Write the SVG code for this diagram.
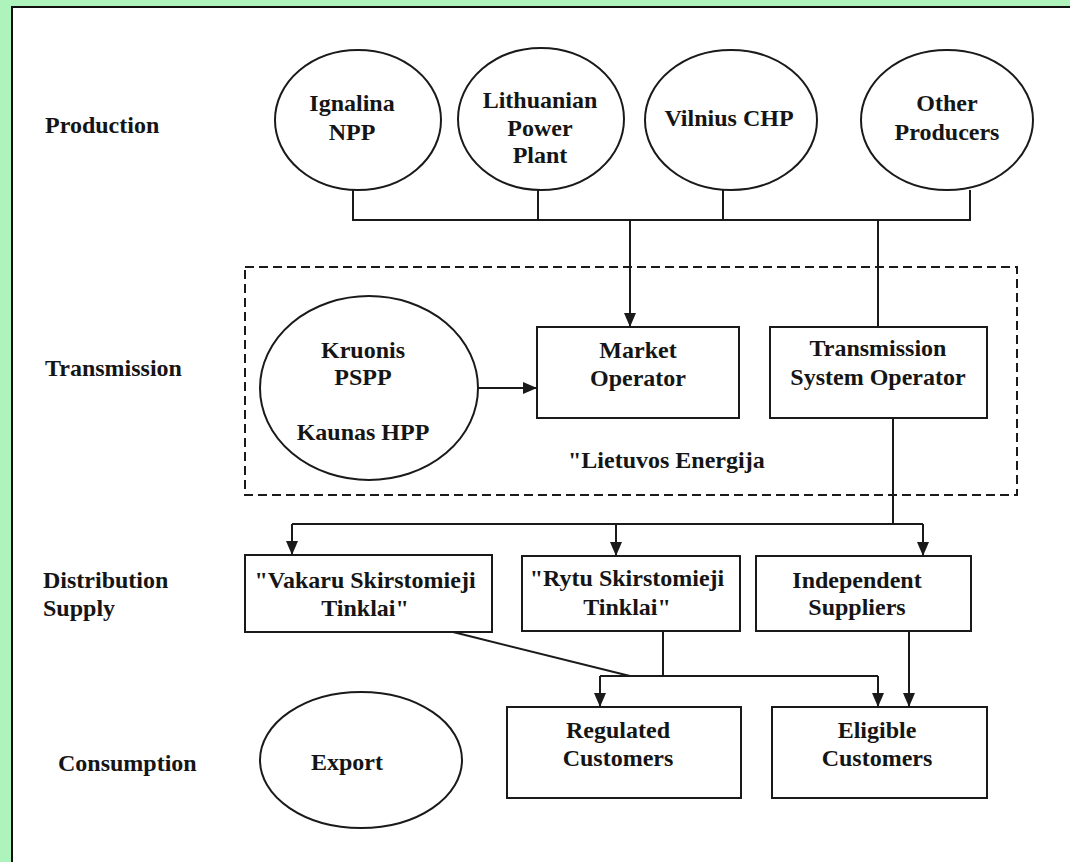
<svg xmlns="http://www.w3.org/2000/svg" width="1070" height="862" viewBox="0 0 1070 862">
<style>
  .shape { fill: #ffffff; stroke: #1a1a1a; stroke-width: 2; }
  .conn { fill: none; stroke: #1a1a1a; stroke-width: 2; }
  .dash { fill: none; stroke: #1a1a1a; stroke-width: 2; stroke-dasharray: 9 5; }
  text { font-family: "Liberation Serif", "Times New Roman", serif; font-weight: bold; font-size: 24px; fill: #151515; }
  .c { text-anchor: middle; }
</style>
<defs>
  <marker id="arr" viewBox="0 0 14 12" refX="14" refY="6" markerWidth="14" markerHeight="12" markerUnits="userSpaceOnUse" orient="auto">
    <path d="M0,0 L14,6 L0,12 z" fill="#1a1a1a"/>
  </marker>
</defs>
<rect x="0" y="0" width="1070" height="862" fill="#aef2bc"/>
<rect x="12" y="7" width="1070" height="870" fill="#ffffff" stroke="#111" stroke-width="2"/>

<g id="labels">
  <text x="45" y="133">Production</text>
  <text x="45" y="376">Transmission</text>
  <text x="43" y="588">Distribution</text>
  <text x="43" y="616">Supply</text>
  <text x="58" y="771">Consumption</text>
</g>

<g id="lietuvos-energija">
  <rect class="dash" x="245" y="267" width="772" height="228"/>
  <text x="568" y="468">"Lietuvos Energija</text>
</g>

<g id="connectors">
  <path class="conn" d="M353,190 V220 H970 V190"/>
  <path class="conn" d="M538,190 V220"/>
  <path class="conn" d="M723,190 V220"/>
  <path class="conn" d="M630,220 V327" marker-end="url(#arr)"/>
  <path class="conn" d="M878,220 V327"/>
  <path class="conn" d="M478,388 H537" marker-end="url(#arr)"/>
  <path class="conn" d="M893,418 V524"/>
  <path class="conn" d="M292,524 H923"/>
  <path class="conn" d="M292,524 V555" marker-end="url(#arr)"/>
  <path class="conn" d="M616,524 V556" marker-end="url(#arr)"/>
  <path class="conn" d="M923,524 V556" marker-end="url(#arr)"/>
  <path class="conn" d="M453,632 L630,676"/>
  <path class="conn" d="M663,631 V676"/>
  <path class="conn" d="M600,676 H878"/>
  <path class="conn" d="M600,676 V707" marker-end="url(#arr)"/>
  <path class="conn" d="M878,676 V707" marker-end="url(#arr)"/>
  <path class="conn" d="M909,631 V707" marker-end="url(#arr)"/>
</g>

<g id="ignalina">
  <ellipse class="shape" cx="358" cy="120" rx="83" ry="70"/>
  <text class="c" x="352" y="111">Ignalina</text>
  <text class="c" x="352" y="140">NPP</text>
</g>
<g id="lithuanian-pp">
  <ellipse class="shape" cx="541" cy="119" rx="83" ry="71"/>
  <text class="c" x="540" y="108">Lithuanian</text>
  <text class="c" x="540" y="136">Power</text>
  <text class="c" x="540" y="163">Plant</text>
</g>
<g id="vilnius-chp">
  <ellipse class="shape" cx="731" cy="120" rx="86" ry="70"/>
  <text class="c" x="729" y="126">Vilnius CHP</text>
</g>
<g id="other-producers">
  <ellipse class="shape" cx="947" cy="120" rx="86" ry="70"/>
  <text class="c" x="947" y="111">Other</text>
  <text class="c" x="947" y="140">Producers</text>
</g>

<g id="kruonis">
  <ellipse class="shape" cx="369" cy="388" rx="109" ry="92"/>
  <text class="c" x="363" y="358">Kruonis</text>
  <text class="c" x="363" y="385">PSPP</text>
  <text class="c" x="363" y="440">Kaunas HPP</text>
</g>
<g id="market-operator">
  <rect class="shape" x="537" y="327" width="202" height="91"/>
  <text class="c" x="638" y="358">Market</text>
  <text class="c" x="638" y="386">Operator</text>
</g>
<g id="tso">
  <rect class="shape" x="770" y="327" width="217" height="91"/>
  <text class="c" x="878" y="356">Transmission</text>
  <text class="c" x="878" y="385">System Operator</text>
</g>

<g id="vakaru">
  <rect class="shape" x="245" y="555" width="247" height="77"/>
  <text class="c" x="365" y="588">"Vakaru Skirstomieji</text>
  <text class="c" x="365" y="616">Tinklai"</text>
</g>
<g id="rytu">
  <rect class="shape" x="522" y="556" width="218" height="75"/>
  <text class="c" x="627" y="586">"Rytu Skirstomieji</text>
  <text class="c" x="627" y="615">Tinklai"</text>
</g>
<g id="independent">
  <rect class="shape" x="756" y="556" width="215" height="75"/>
  <text class="c" x="857" y="588">Independent</text>
  <text class="c" x="857" y="615">Suppliers</text>
</g>

<g id="export">
  <ellipse class="shape" cx="361" cy="760" rx="101" ry="68"/>
  <text class="c" x="347" y="770">Export</text>
</g>
<g id="regulated">
  <rect class="shape" x="507" y="707" width="234" height="91"/>
  <text class="c" x="618" y="738">Regulated</text>
  <text class="c" x="618" y="766">Customers</text>
</g>
<g id="eligible">
  <rect class="shape" x="772" y="707" width="215" height="91"/>
  <text class="c" x="877" y="738">Eligible</text>
  <text class="c" x="877" y="766">Customers</text>
</g>
</svg>
